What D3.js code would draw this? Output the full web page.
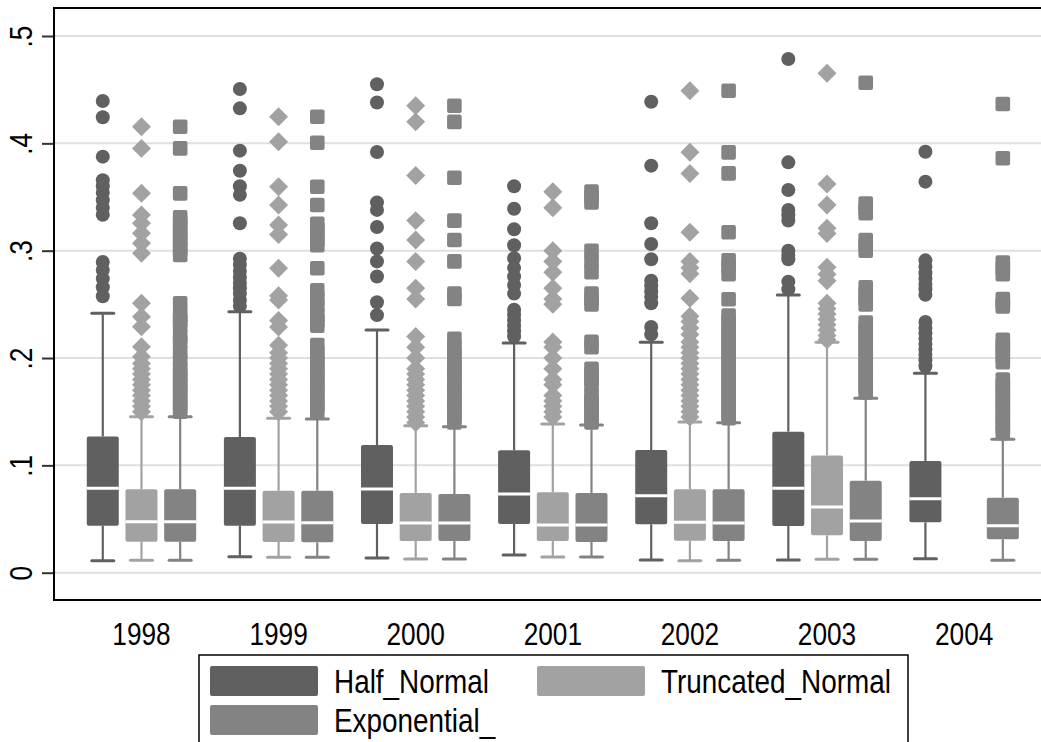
<!DOCTYPE html>
<html>
<head>
<meta charset="utf-8">
<script src="https://cdn.jsdelivr.net/npm/d3@7"></script>
<style>
  html, body { margin: 0; padding: 0; background: #fff; }
  svg { display: block; }
  text { font-family: "Liberation Sans", Arial, Helvetica, sans-serif; fill: #000; }
</style>
</head>
<body>
<svg id="chart" width="1041" height="742"></svg>
<script>
// ---------------- DATA ----------------
const years = ["1998", "1999", "2000", "2001", "2002", "2003", "2004"];
const seriesNames = ["Half_Normal", "Truncated_Normal", "Exponential_"];
const yTickValues = [0, 0.1, 0.2, 0.3, 0.4, 0.5];
const yTickLabels = ["0", ".1", ".2", ".3", ".4", ".5"];

// box stats per year: [lower adjacent, q1, median, q3, upper adjacent]
const halfNormalStats = [
  [0.0112, 0.0438, 0.0786, 0.1270, 0.2417],
  [0.0149, 0.0438, 0.0786, 0.1264, 0.2432],
  [0.0137, 0.0454, 0.0780, 0.1190, 0.2260],
  [0.0165, 0.0454, 0.0733, 0.1140, 0.2140],
  [0.0118, 0.0451, 0.0718, 0.1143, 0.2146],
  [0.0118, 0.0435, 0.0786, 0.1314, 0.2587],
  [0.0130, 0.0469, 0.0689, 0.1041, 0.1857]
];
const truncatedNormalStats = [
  [0.0115, 0.0289, 0.0475, 0.0777, 0.1453],
  [0.0143, 0.0286, 0.0472, 0.0764, 0.1438],
  [0.0128, 0.0295, 0.0463, 0.0743, 0.1370],
  [0.0146, 0.0295, 0.0444, 0.0750, 0.1385],
  [0.0112, 0.0298, 0.0469, 0.0777, 0.1404],
  [0.0125, 0.0348, 0.0612, 0.1093, 0.2146],
  null
];
const exponentialStats = [
  [0.0115, 0.0289, 0.0475, 0.0777, 0.1453],
  [0.0143, 0.0283, 0.0466, 0.0764, 0.1432],
  [0.0128, 0.0295, 0.0463, 0.0733, 0.1360],
  [0.0146, 0.0286, 0.0444, 0.0743, 0.1376],
  [0.0115, 0.0295, 0.0463, 0.0777, 0.1398],
  [0.0125, 0.0295, 0.0482, 0.0857, 0.1625],
  [0.0115, 0.0311, 0.0438, 0.0699, 0.1243]
];

// outside values per year
const halfNormalOutliers = [
  [0.4395, 0.4243, 0.3876, 0.3656, 0.360, 0.354, 0.347, 0.340, 0.3335, 0.2894, 0.282, 0.274, 0.266, 0.2575],
  [0.4506, 0.4326, 0.3932, 0.3745, 0.360, 0.352, 0.3255, 0.2925, 0.287, 0.281, 0.275, 0.270, 0.265, 0.260, 0.254, 0.2485],
  [0.455, 0.438, 0.392, 0.345, 0.338, 0.322, 0.302, 0.290, 0.276, 0.252, 0.240],
  [0.360, 0.339, 0.320, 0.305, 0.293, 0.284, 0.276, 0.268, 0.260, 0.245, 0.240, 0.235, 0.230, 0.225, 0.220],
  [0.4388, 0.3792, 0.3255, 0.3062, 0.292, 0.272, 0.267, 0.262, 0.257, 0.251, 0.229, 0.222],
  [0.4786, 0.3823, 0.3565, 0.338, 0.333, 0.328, 0.300, 0.296, 0.292, 0.271, 0.264],
  [0.3922, 0.3643, 0.291, 0.285, 0.279, 0.274, 0.269, 0.264, 0.259, 0.2336, 0.228, 0.223, 0.218, 0.213, 0.208, 0.203, 0.198, 0.1923]
];
const truncatedNormalOutliers = [
  [0.4155, 0.3953, 0.3534, 0.3332, 0.3255, 0.3162, 0.3069, 0.2976, 0.251, 0.2385, 0.2292, 0.2106, 0.2012, 0.195, 0.190, 0.185, 0.180, 0.175, 0.170, 0.165, 0.160, 0.155, 0.150],
  [0.4248, 0.4015, 0.3596, 0.3425, 0.324, 0.315, 0.2836, 0.258, 0.254, 0.235, 0.229, 0.212, 0.205, 0.200, 0.195, 0.190, 0.185, 0.180, 0.175, 0.170, 0.165, 0.160, 0.155, 0.150],
  [0.435, 0.420, 0.370, 0.328, 0.310, 0.290, 0.265, 0.255, 0.220, 0.210, 0.200, 0.190, 0.185, 0.180, 0.175, 0.170, 0.165, 0.160, 0.155, 0.150, 0.145, 0.140],
  [0.355, 0.340, 0.300, 0.290, 0.280, 0.265, 0.255, 0.250, 0.215, 0.210, 0.200, 0.190, 0.180, 0.175, 0.165, 0.160, 0.155, 0.150, 0.145],
  [0.449, 0.3916, 0.372, 0.3171, 0.290, 0.284, 0.2785, 0.2556, 0.239, 0.234, 0.228, 0.222, 0.215, 0.210, 0.205, 0.200, 0.195, 0.190, 0.185, 0.180, 0.175, 0.170, 0.165, 0.160, 0.155, 0.150, 0.145],
  [0.4652, 0.3621, 0.3425, 0.321, 0.316, 0.2845, 0.278, 0.272, 0.251, 0.246, 0.241, 0.236, 0.231, 0.226, 0.221, 0.217],
  []
];
const exponentialOutliers = [
  [0.4155, 0.3953, 0.3534, 0.331, 0.326, 0.321, 0.316, 0.311, 0.306, 0.301, 0.296, 0.251, 0.240, 0.235, 0.230, 0.220, 0.215, 0.205, 0.198, 0.190, 0.185, 0.180, 0.175, 0.170, 0.165, 0.160, 0.155, 0.150],
  [0.4248, 0.4006, 0.3596, 0.3425, 0.325, 0.320, 0.315, 0.310, 0.305, 0.2836, 0.263, 0.255, 0.249, 0.240, 0.235, 0.230, 0.212, 0.205, 0.200, 0.195, 0.190, 0.185, 0.180, 0.175, 0.170, 0.165, 0.160, 0.155, 0.150],
  [0.435, 0.420, 0.368, 0.328, 0.310, 0.290, 0.260, 0.255, 0.218, 0.210, 0.205, 0.200, 0.195, 0.190, 0.185, 0.180, 0.175, 0.170, 0.165, 0.160, 0.155, 0.150, 0.145, 0.140],
  [0.355, 0.350, 0.345, 0.300, 0.290, 0.280, 0.260, 0.255, 0.250, 0.215, 0.210, 0.190, 0.185, 0.180, 0.175, 0.165, 0.160, 0.155, 0.150, 0.145, 0.140],
  [0.449, 0.3916, 0.372, 0.3171, 0.291, 0.285, 0.278, 0.2547, 0.2395, 0.234, 0.228, 0.223, 0.218, 0.213, 0.208, 0.203, 0.198, 0.193, 0.188, 0.183, 0.178, 0.173, 0.168, 0.163, 0.158, 0.153, 0.148, 0.144],
  [0.4565, 0.344, 0.339, 0.335, 0.310, 0.305, 0.300, 0.266, 0.260, 0.255, 0.250, 0.233, 0.228, 0.223, 0.218, 0.213, 0.208, 0.203, 0.198, 0.193, 0.188, 0.183, 0.178, 0.173, 0.168],
  [0.4367, 0.3861, 0.289, 0.284, 0.278, 0.255, 0.251, 0.248, 0.217, 0.212, 0.207, 0.202, 0.196, 0.180, 0.175, 0.170, 0.165, 0.160, 0.155, 0.150, 0.145, 0.140, 0.135, 0.130]
];

// ---------------- STYLE / LAYOUT ----------------
const seriesColors = ["#606060", "#a2a2a2", "#838383"];
const seriesMarkers = ["circle", "diamond", "square"];
const allStats = [halfNormalStats, truncatedNormalStats, exponentialStats];
const allOutliers = [halfNormalOutliers, truncatedNormalOutliers, exponentialOutliers];

const svg = d3.select("#chart");
const plotLeft = 54, plotTop = 8, plotBottom = 600, plotRightFull = 1051.6;
const fontSize = 32;

const y = d3.scaleLinear().domain([0, 0.5]).range([572.7, 36]);
const x = d3.scaleBand().domain(years).range([plotLeft, plotRightFull]).paddingInner(0).paddingOuter(0.138);
const inner = d3.scalePoint().domain(seriesNames).range([-38.7, 38.7]);

function squeezeText(sel, factor) {
  sel.each(function () {
    const w = this.getComputedTextLength();
    d3.select(this).attr("textLength", w * factor).attr("lengthAdjust", "spacingAndGlyphs");
  });
}

// gridlines
svg.append("g").selectAll("line").data(yTickValues).join("line")
  .attr("x1", plotLeft).attr("x2", 1045)
  .attr("y1", d => y(d)).attr("y2", d => y(d))
  .attr("stroke", "#e0e0e0").attr("stroke-width", 2);

// y axis
const yAxis = svg.append("g").attr("transform", `translate(${plotLeft},0)`)
  .call(d3.axisLeft(y).tickValues(yTickValues).tickFormat((d, i) => yTickLabels[i]).tickSize(12));
yAxis.select(".domain").remove();
yAxis.selectAll(".tick line").attr("stroke", "#333").attr("stroke-width", 2);
yAxis.selectAll(".tick text")
  .attr("transform", "rotate(-90)")
  .attr("x", 0).attr("y", -(plotLeft - 32)).attr("dy", 0)
  .attr("text-anchor", "middle")
  .style("font-size", fontSize + "px")
  .style("font-family", "'Liberation Sans', Arial, sans-serif")
  .attr("fill", "#000")
  .call(squeezeText, 0.82);

// x axis labels
const xAxis = svg.append("g").attr("transform", `translate(0,${plotBottom})`)
  .call(d3.axisBottom(x).tickSize(0));
xAxis.select(".domain").remove();
xAxis.selectAll(".tick text")
  .attr("y", 45).attr("dy", 0)
  .style("font-size", fontSize + "px")
  .style("font-family", "'Liberation Sans', Arial, sans-serif")
  .attr("fill", "#000")
  .call(squeezeText, 0.82);

// boxes
const boxW = 32, capW = 22;
seriesNames.forEach((s, si) => {
  const col = seriesColors[si];
  const g = svg.append("g");
  years.forEach((yr, yi) => {
    const st = allStats[si][yi];
    if (!st) return;
    const [lo, q1, med, q3, hi] = st;
    const cx = x(yr) + x.bandwidth() / 2 + inner(s);
    g.append("line").attr("x1", cx).attr("x2", cx).attr("y1", y(hi)).attr("y2", y(q3))
      .attr("stroke", col).attr("stroke-width", 2.2);
    g.append("line").attr("x1", cx).attr("x2", cx).attr("y1", y(q1)).attr("y2", y(lo))
      .attr("stroke", col).attr("stroke-width", 2.2);
    [hi, lo].forEach(v => {
      g.append("line").attr("x1", cx - capW / 2).attr("x2", cx + capW / 2)
        .attr("y1", y(v)).attr("y2", y(v))
        .attr("stroke", col).attr("stroke-width", 3).attr("stroke-linecap", "round");
    });
    g.append("rect").attr("x", cx - boxW / 2).attr("width", boxW)
      .attr("y", y(q3)).attr("height", y(q1) - y(q3))
      .attr("rx", 2).attr("fill", col);
    g.append("line").attr("x1", cx - boxW / 2).attr("x2", cx + boxW / 2)
      .attr("y1", y(med)).attr("y2", y(med))
      .attr("stroke", "#fff").attr("stroke-width", 3);
  });
});

// outliers
seriesNames.forEach((s, si) => {
  const col = seriesColors[si];
  const g = svg.append("g");
  years.forEach((yr, yi) => {
    const vals = allOutliers[si][yi];
    const cx = x(yr) + x.bandwidth() / 2 + inner(s);
    vals.forEach(v => {
      if (seriesMarkers[si] === "circle") {
        g.append("circle").attr("cx", cx).attr("cy", y(v)).attr("r", 7).attr("fill", col);
      } else if (seriesMarkers[si] === "diamond") {
        g.append("path").attr("d", d3.symbol(d3.symbolSquare, 180)())
          .attr("transform", `translate(${cx},${y(v)}) rotate(45)`).attr("fill", col);
      } else {
        g.append("rect").attr("x", cx - 7.3).attr("y", y(v) - 7.3)
          .attr("width", 14.6).attr("height", 14.6).attr("rx", 2).attr("fill", col);
      }
    });
  });
});

// frame
svg.append("rect").attr("x", plotLeft).attr("y", plotTop)
  .attr("width", 1000).attr("height", plotBottom - plotTop)
  .attr("fill", "none").attr("stroke", "#000").attr("stroke-width", 2);

// legend
const leg = svg.append("g");
leg.append("rect").attr("x", 199).attr("y", 655).attr("width", 709).attr("height", 120)
  .attr("fill", "#fff").attr("stroke", "#000").attr("stroke-width", 1.5);
const legPos = [[210, 666], [537, 666], [210, 705]];
seriesNames.forEach((s, si) => {
  const [lx, ly] = legPos[si];
  leg.append("rect").attr("x", lx).attr("y", ly).attr("width", 108).attr("height", 30)
    .attr("rx", 2).attr("fill", seriesColors[si]);
  leg.append("text").attr("x", lx + 124).attr("y", ly + 27)
    .style("font-size", (fontSize + 1) + "px")
    .text(s)
    .call(squeezeText, 0.845);
});
</script>
</body>
</html>
